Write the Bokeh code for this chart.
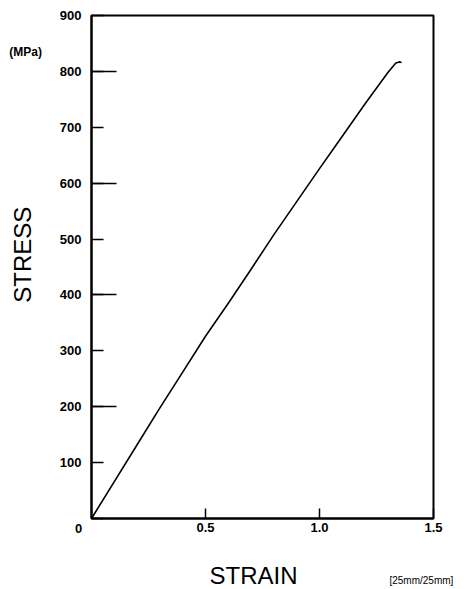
import math
from bokeh.plotting import figure
from bokeh.models import FixedTicker, Label, ColumnDataSource
from bokeh.embed import file_html
from bokeh.resources import INLINE

# data
strain = [0, 0.1, 0.2, 0.3, 0.4, 0.5, 0.6, 0.7, 0.8, 0.9, 1.0, 1.1, 1.2, 1.3, 1.32, 1.335, 1.35, 1.36]
stress = [0, 66, 132, 198, 262, 326, 385, 446, 508, 567, 626, 684, 742, 798, 808, 815, 817, 816]

y_ticks = [0, 100, 200, 300, 400, 500, 600, 700, 800, 900]
y_long_ticks = [200, 400, 600, 800]
x_ticks = [0.5, 1.0, 1.5]
x_tick_labels = {0.5: "0.5", 1.0: "1.0", 1.5: "1.5"}

FONT = "Liberation Sans"

p = figure(width=468, height=589, output_backend="svg", toolbar_location=None,
           x_range=(0, 1.5), y_range=(0, 900),
           min_border_left=91, min_border_right=35, min_border_top=15, min_border_bottom=71)
p.background_fill_color = "white"
p.border_fill_color = "white"
p.outline_line_color = "black"
p.outline_line_width = 2
p.xgrid.visible = False
p.ygrid.visible = False

src = ColumnDataSource(dict(x=strain, y=stress))
p.line("x", "y", source=src, line_color="black", line_width=1.6, line_join="round")

# y axis: short ticks every 100, long ticks every 200
ya = p.yaxis[0]
ya.ticker = FixedTicker(ticks=y_ticks, minor_ticks=y_long_ticks)
ya.major_label_overrides = {0: ""}
ya.major_tick_in = 12
ya.major_tick_out = 0
ya.minor_tick_in = 25
ya.minor_tick_out = 0
ya.major_tick_line_color = "black"
ya.minor_tick_line_color = "black"
ya.major_tick_line_width = 1.5
ya.minor_tick_line_width = 1.5
ya.axis_line_color = "black"
ya.axis_line_width = 2
ya.major_label_standoff = 10
ya.major_label_text_font = FONT
ya.major_label_text_font_style = "bold"
ya.major_label_text_font_size = "13px"
ya.major_label_text_color = "black"

# x axis
xa = p.xaxis[0]
xa.ticker = FixedTicker(ticks=x_ticks, minor_ticks=[])
xa.major_label_overrides = x_tick_labels
xa.major_tick_in = 10
xa.major_tick_out = 0
xa.major_tick_line_color = "black"
xa.major_tick_line_width = 1.5
xa.axis_line_color = "black"
xa.axis_line_width = 2
xa.major_label_standoff = 4
xa.major_label_text_font = FONT
xa.major_label_text_font_style = "bold"
xa.major_label_text_font_size = "13px"
xa.major_label_text_color = "black"

def lab(text, x, y, size, side, style="normal", angle=0.0):
    p.add_layout(Label(x=x, y=y, text=text,
                       text_font=FONT, text_font_size=size, text_font_style=style,
                       text_color="black", text_align="center", text_baseline="middle",
                       angle=angle), side)

lab("STRAIN", 0.711, -102, "24px", "below")
lab("[25mm/25mm]", 1.447, -111, "10px", "below")
lab("STRESS", -0.303, 472, "24px", "left", angle=math.pi / 2)
lab("(MPa)", -0.289, 834, "12px", "above", "bold")
lab("0", -0.057, -18, "13px", "right", "bold")

open("out.html", "w").write(file_html(p, INLINE))
